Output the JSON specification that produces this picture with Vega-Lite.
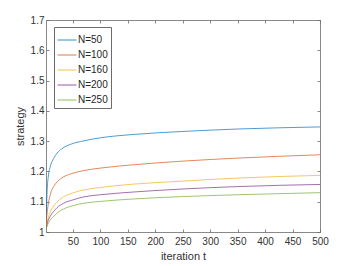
{
  "$schema": "https://vega.github.io/schema/vega-lite/v6.json",
  "width": 274,
  "height": 212,
  "padding": {"left": 46, "top": 20, "right": 34, "bottom": 34},
  "autosize": {"type": "none"},
  "background": "white",
  "config": {
    "view": {"stroke": null},
    "font": "Liberation Sans",
    "axis": {
      "domainColor": "#6b6b6b",
      "tickColor": "#6b6b6b",
      "labelColor": "#333333",
      "titleColor": "#333333",
      "labelFontSize": 10,
      "titleFontSize": 11,
      "titleFontWeight": "normal",
      "grid": false,
      "tickSize": -3,
      "domainWidth": 0.8,
      "tickWidth": 0.8,
      "labelFlush": false
    }
  },
  "data": {
    "values": [
      {"t": 1, "v": 1.01, "s": "N=50"},
      {"t": 2, "v": 1.08, "s": "N=50"},
      {"t": 3, "v": 1.135, "s": "N=50"},
      {"t": 5, "v": 1.18, "s": "N=50"},
      {"t": 9, "v": 1.217, "s": "N=50"},
      {"t": 15, "v": 1.243, "s": "N=50"},
      {"t": 21, "v": 1.26, "s": "N=50"},
      {"t": 30, "v": 1.275, "s": "N=50"},
      {"t": 45, "v": 1.289, "s": "N=50"},
      {"t": 70, "v": 1.301, "s": "N=50"},
      {"t": 100, "v": 1.311, "s": "N=50"},
      {"t": 160, "v": 1.322, "s": "N=50"},
      {"t": 250, "v": 1.332, "s": "N=50"},
      {"t": 350, "v": 1.34, "s": "N=50"},
      {"t": 500, "v": 1.347, "s": "N=50"},
      {"t": 1, "v": 1.01, "s": "N=100"},
      {"t": 2, "v": 1.04, "s": "N=100"},
      {"t": 3, "v": 1.062, "s": "N=100"},
      {"t": 5, "v": 1.09, "s": "N=100"},
      {"t": 9, "v": 1.125, "s": "N=100"},
      {"t": 15, "v": 1.15, "s": "N=100"},
      {"t": 21, "v": 1.165, "s": "N=100"},
      {"t": 33, "v": 1.182, "s": "N=100"},
      {"t": 50, "v": 1.194, "s": "N=100"},
      {"t": 70, "v": 1.203, "s": "N=100"},
      {"t": 100, "v": 1.211, "s": "N=100"},
      {"t": 160, "v": 1.222, "s": "N=100"},
      {"t": 250, "v": 1.234, "s": "N=100"},
      {"t": 350, "v": 1.244, "s": "N=100"},
      {"t": 500, "v": 1.255, "s": "N=100"},
      {"t": 1, "v": 1.01, "s": "N=160"},
      {"t": 3, "v": 1.032, "s": "N=160"},
      {"t": 5, "v": 1.047, "s": "N=160"},
      {"t": 9, "v": 1.067, "s": "N=160"},
      {"t": 15, "v": 1.086, "s": "N=160"},
      {"t": 21, "v": 1.099, "s": "N=160"},
      {"t": 33, "v": 1.116, "s": "N=160"},
      {"t": 50, "v": 1.129, "s": "N=160"},
      {"t": 70, "v": 1.139, "s": "N=160"},
      {"t": 100, "v": 1.147, "s": "N=160"},
      {"t": 160, "v": 1.158, "s": "N=160"},
      {"t": 250, "v": 1.168, "s": "N=160"},
      {"t": 350, "v": 1.178, "s": "N=160"},
      {"t": 500, "v": 1.187, "s": "N=160"},
      {"t": 1, "v": 1.01, "s": "N=200"},
      {"t": 3, "v": 1.026, "s": "N=200"},
      {"t": 5, "v": 1.038, "s": "N=200"},
      {"t": 9, "v": 1.053, "s": "N=200"},
      {"t": 15, "v": 1.068, "s": "N=200"},
      {"t": 21, "v": 1.08, "s": "N=200"},
      {"t": 33, "v": 1.095, "s": "N=200"},
      {"t": 50, "v": 1.106, "s": "N=200"},
      {"t": 70, "v": 1.116, "s": "N=200"},
      {"t": 100, "v": 1.123, "s": "N=200"},
      {"t": 160, "v": 1.132, "s": "N=200"},
      {"t": 250, "v": 1.142, "s": "N=200"},
      {"t": 350, "v": 1.15, "s": "N=200"},
      {"t": 500, "v": 1.157, "s": "N=200"},
      {"t": 1, "v": 1.01, "s": "N=250"},
      {"t": 3, "v": 1.019, "s": "N=250"},
      {"t": 5, "v": 1.028, "s": "N=250"},
      {"t": 9, "v": 1.04, "s": "N=250"},
      {"t": 15, "v": 1.052, "s": "N=250"},
      {"t": 21, "v": 1.062, "s": "N=250"},
      {"t": 33, "v": 1.076, "s": "N=250"},
      {"t": 50, "v": 1.087, "s": "N=250"},
      {"t": 70, "v": 1.095, "s": "N=250"},
      {"t": 100, "v": 1.101, "s": "N=250"},
      {"t": 160, "v": 1.109, "s": "N=250"},
      {"t": 250, "v": 1.117, "s": "N=250"},
      {"t": 350, "v": 1.123, "s": "N=250"},
      {"t": 500, "v": 1.13, "s": "N=250"}
    ]
  },
  "layer": [
    {
      "mark": {"type": "line", "interpolate": "monotone", "strokeWidth": 0.7, "clip": true},
      "encoding": {
        "x": {
          "field": "t", "type": "quantitative",
          "scale": {"domain": [1, 500], "nice": false, "zero": false},
          "axis": {"values": [50, 100, 150, 200, 250, 300, 350, 400, 450, 500], "title": "iteration t", "labelPadding": 7, "titlePadding": 4}
        },
        "y": {
          "field": "v", "type": "quantitative",
          "scale": {"domain": [1, 1.7], "nice": false, "zero": false},
          "axis": {"values": [1, 1.1, 1.2, 1.3, 1.4, 1.5, 1.6, 1.7], "format": "~g", "title": "strategy", "labelPadding": 5, "titlePadding": 5}
        },
        "color": {
          "field": "s", "type": "nominal",
          "scale": {
            "domain": ["N=50", "N=100", "N=160", "N=200", "N=250"],
            "range": ["#0072BD", "#D95319", "#EDB120", "#7E2F8E", "#77AC30"]
          },
          "legend": {
            "title": null,
            "orient": "none",
            "legendX": 8,
            "legendY": 7,
            "symbolType": "stroke",
            "symbolSize": 361,
            "symbolStrokeWidth": 0.8,
            "labelFontSize": 10,
            "labelColor": "#262626",
            "labelOffset": 1,
            "rowPadding": -7,
            "padding": 3,
            "fillColor": "white",
            "strokeColor": "#6b6b6b"
          }
        }
      }
    },
    {
      "mark": {"type": "line", "strokeOpacity": 0},
      "encoding": {
        "x": {
          "field": "t", "type": "quantitative",
          "axis": {"orient": "top", "values": [50, 100, 150, 200, 250, 300, 350, 400, 450, 500], "labels": false, "title": null}
        },
        "y": {
          "field": "v", "type": "quantitative",
          "axis": {"orient": "right", "values": [1, 1.1, 1.2, 1.3, 1.4, 1.5, 1.6, 1.7], "labels": false, "title": null}
        },
        "detail": {"field": "s"}
      }
    }
  ],
  "resolve": {"axis": {"x": "independent", "y": "independent"}}
}
